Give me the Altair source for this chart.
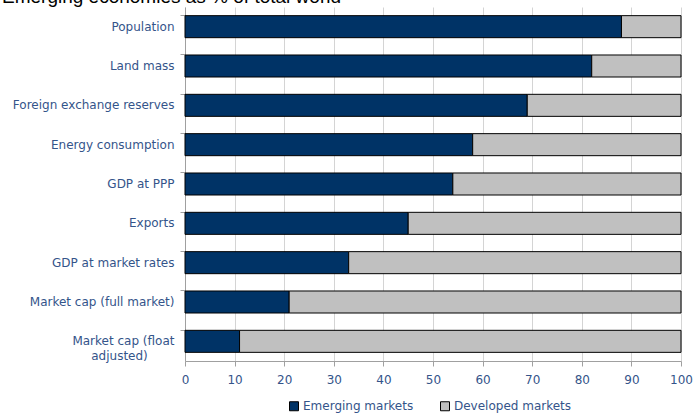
import altair as alt
import pandas as pd

title_text = "Emerging economies as % of total world"
categories = [
    "Population",
    "Land mass",
    "Foreign exchange reserves",
    "Energy consumption",
    "GDP at PPP",
    "Exports",
    "GDP at market rates",
    "Market cap (full market)",
    "Market cap (float adjusted)",
]
emerging = [88, 82, 69, 58, 54, 45, 33, 21, 11]
series = ["Emerging markets", "Developed markets"]
colors = ["#003366", "#C0C0C0"]
x_ticks = list(range(0, 101, 10))

rows = []
for c, e in zip(categories, emerging):
    rows.append({"category": c, "series": series[0], "value": e, "ord": 0})
    rows.append({"category": c, "series": series[1], "value": 100 - e, "ord": 1})
df = pd.DataFrame(rows)

label_color = "#34548A"
font = "DejaVu Sans"

bars = (
    alt.Chart(df)
    .mark_bar(stroke="black", strokeWidth=1)
    .encode(
        y=alt.Y(
            "category:N",
            sort=categories,
            title=None,
            scale=alt.Scale(paddingInner=0.44, paddingOuter=0.22),
            axis=alt.Axis(
                labelExpr="datum.value == 'Market cap (float adjusted)' ? ['Market cap (float', 'adjusted)\u00a0\u00a0\u00a0\u00a0\u00a0\u00a0\u00a0\u200b'] : datum.label",
                labelColor=label_color,
                labelFont=font,
                labelFontSize=12,
                labelLineHeight=15,
                labelPadding=6,
                labelLimit=250,
                tickSize=5,
                tickColor="#A0A0A0",
                domainColor="#A0A0A0",
                bandPosition=0,
                grid=False,
            ),
        ),
        x=alt.X(
            "value:Q",
            stack="zero",
            title=None,
            scale=alt.Scale(domain=[0, 100], nice=False),
            axis=alt.Axis(
                values=x_ticks,
                labelColor=label_color,
                labelFont=font,
                labelFontSize=12,
                labelPadding=8,
                tickSize=5,
                tickColor="#A0A0A0",
                domainColor="#A0A0A0",
                grid=True,
                gridColor="#D4D4D4",
                labelFlush=False,
            ),
        ),
        color=alt.Color(
            "series:N",
            sort=series,
            scale=alt.Scale(domain=series, range=colors),
            legend=alt.Legend(
                title=None,
                orient="none",
                direction="horizontal",
                legendX=103,
                legendY=393,
                padding=0,
                symbolType="square",
                symbolSize=81,
                symbolStrokeColor="black",
                symbolStrokeWidth=1,
                symbolOpacity=1,
                labelColor=label_color,
                labelFont=font,
                labelFontSize=12,
                labelOffset=3,
                columnPadding=24,
            ),
        ),
        order=alt.Order("ord:Q"),
    )
)

title_layer = (
    alt.Chart(pd.DataFrame({"t": [title_text]}))
    .mark_text(
        align="left",
        baseline="alphabetic",
        font="Liberation Sans",
        fontSize=19,
        color="black",
    )
    .encode(text="t:N", x=alt.value(-183), y=alt.value(-4))
)

chart = (
    alt.layer(bars, title_layer)
    .properties(
        width=496,
        height=354,
        autosize=alt.AutoSizeParams(type="none"),
        padding={"left": 185, "top": 7, "right": 13, "bottom": 56},
    )
    .configure_view(stroke=None)
)

chart.save("out.html", embed_options={"renderer": "svg", "actions": False})
